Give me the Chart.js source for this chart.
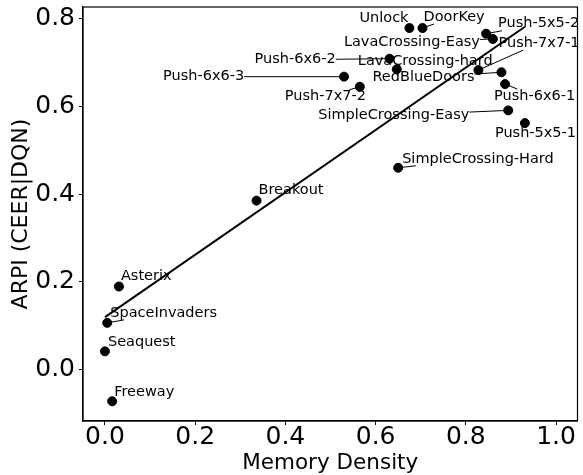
<!DOCTYPE html>
<html>
<head>
<meta charset="utf-8">
<script src="https://cdn.jsdelivr.net/npm/chart.js@4"></script>
<style>html,body{margin:0;padding:0;background:#fff}</style>
</head>
<body>
<canvas id="chart" width="583" height="475"></canvas>
<script>
// environments and their values
var envNames = ['Freeway', 'Seaquest', 'SpaceInvaders', 'Asterix', 'Breakout', 'SimpleCrossing-Hard',
    'SimpleCrossing-Easy', 'Push-5x5-1', 'Push-6x6-1', 'RedBlueDoors', 'Push-7x7-1', 'LavaCrossing-hard',
    'Push-6x6-2', 'Push-6x6-3', 'Push-7x7-2', 'LavaCrossing-Easy', 'Push-5x5-2', 'Unlock', 'DoorKey'];
var memoryDensity = [0.016, 0.000, 0.005, 0.031, 0.336, 0.650, 0.894, 0.931, 0.887, 0.879, 0.828, 0.647,
    0.631, 0.530, 0.565, 0.860, 0.845, 0.675, 0.704];
var arpi = [-0.073, 0.041, 0.106, 0.189, 0.385, 0.460, 0.591, 0.562, 0.651, 0.678, 0.683, 0.685,
    0.709, 0.668, 0.645, 0.754, 0.766, 0.779, 0.779];

// fitted trend line (end points)
var fitX = [0.0, 0.931];
var fitY = [0.119, 0.782];

var xTicks = [0.0, 0.2, 0.4, 0.6, 0.8, 1.0];
var yTicks = [0.0, 0.2, 0.4, 0.6, 0.8];

// label placement: [dx, dy, connector] in pixels from the dot
var labelOffsets = [
    [2, -9, 0], [3, -9, 0], [3, -10, 1], [2, -10, 0], [2, -10, 0], [4, -9, 1],
    [-190, 5, 1], [-30, 10, 0], [-11, 12, 1], [-129, 5, 1], [20, -27, 1], [-39, -8, 1],
    [-135, 1, 1], [-181, 0, 1], [-75, 10, 1], [-149, 3, 1], [12, -10, 1], [-50, -10, 0], [1, -11, 1]
];

var FONT = '"DejaVu Sans", sans-serif';

var labelPlugin = {
    id: 'pointLabels',
    afterDatasetsDraw: function(chart) {
        var ctx = chart.ctx;
        var meta = chart.getDatasetMeta(0);
        ctx.save();
        ctx.font = '14.5px ' + FONT;
        ctx.textBaseline = 'middle';
        ctx.fillStyle = '#000';
        ctx.strokeStyle = '#000';
        ctx.lineWidth = 1;
        meta.data.forEach(function(pt, i) {
            var off = labelOffsets[i];
            var tx = pt.x + off[0], ty = pt.y + off[1];
            var w = ctx.measureText(envNames[i]).width, h = 14;
            if (off[2]) {
                var cx = tx + w / 2, cy = ty;
                var dx = pt.x - cx, dy = pt.y - cy;
                var t = Math.min(Math.abs((w / 2) / dx) || Infinity, Math.abs((h / 2) / dy) || Infinity);
                if (t < 1) {
                    ctx.beginPath();
                    ctx.moveTo(cx + t * dx, cy + t * dy);
                    ctx.lineTo(pt.x, pt.y);
                    ctx.stroke();
                }
            }
            ctx.fillText(envNames[i], tx, ty);
        });
        // box round the plot
        var a = chart.chartArea;
        ctx.lineWidth = 1.2;
        ctx.strokeRect(a.left, a.top, a.right - a.left, a.bottom - a.top);
        ctx.restore();
    }
};

var points = memoryDensity.map(function(x, i) { return {x: x, y: arpi[i]}; });
var fitLine = fitX.map(function(x, i) { return {x: x, y: fitY[i]}; });

new Chart(document.getElementById('chart'), {
    type: 'scatter',
    data: {
        datasets: [{
            data: points,
            backgroundColor: '#000',
            borderColor: '#000',
            pointRadius: 4.5,
            pointHoverRadius: 4.5
        }, {
            data: fitLine,
            showLine: true,
            borderColor: '#000',
            borderWidth: 2,
            pointRadius: 0,
            fill: false
        }]
    },
    options: {
        responsive: false,
        animation: false,
        events: [],
        layout: {padding: {top: 7, right: 5, left: 0, bottom: 0}},
        plugins: {legend: {display: false}, tooltip: {enabled: false}},
        scales: {
            x: {
                type: 'linear',
                min: -0.0487,
                max: 1.0476,
                afterFit: function(scale) {
                    scale.height = 54;
                    scale.paddingLeft = 0;
                    scale.paddingRight = 0;
                },
                afterBuildTicks: function(scale) {
                    scale.ticks = xTicks.map(function(v) { return {value: v}; });
                },
                grid: {drawOnChartArea: false, tickLength: 4, color: '#000'},
                border: {display: true, color: '#000', width: 1.2},
                ticks: {
                    padding: 0,
                    color: '#000',
                    font: {family: FONT, size: 25, lineHeight: 1},
                    maxRotation: 0,
                    autoSkip: false,
                    callback: function(v) { return v.toFixed(1); }
                },
                title: {
                    display: true,
                    text: 'Memory Density',
                    color: '#000',
                    font: {family: FONT, size: 21.5, lineHeight: 1},
                    padding: 1
                }
            },
            y: {
                type: 'linear',
                min: -0.118,
                max: 0.827,
                afterFit: function(scale) {
                    scale.width = 83;
                    scale.paddingTop = 0;
                    scale.paddingBottom = 0;
                },
                afterBuildTicks: function(scale) {
                    scale.ticks = yTicks.map(function(v) { return {value: v}; });
                },
                grid: {drawOnChartArea: false, tickLength: 4, color: '#000'},
                border: {display: true, color: '#000', width: 1.2},
                ticks: {
                    padding: 4,
                    color: '#000',
                    font: {family: FONT, size: 25, lineHeight: 1},
                    autoSkip: false,
                    callback: function(v) { return v.toFixed(1); }
                },
                title: {
                    display: true,
                    text: 'ARPI (CEER|DQN)',
                    color: '#000',
                    font: {family: FONT, size: 22, lineHeight: 1},
                    padding: 10
                }
            }
        }
    },
    plugins: [labelPlugin]
});
</script>
</body>
</html>
